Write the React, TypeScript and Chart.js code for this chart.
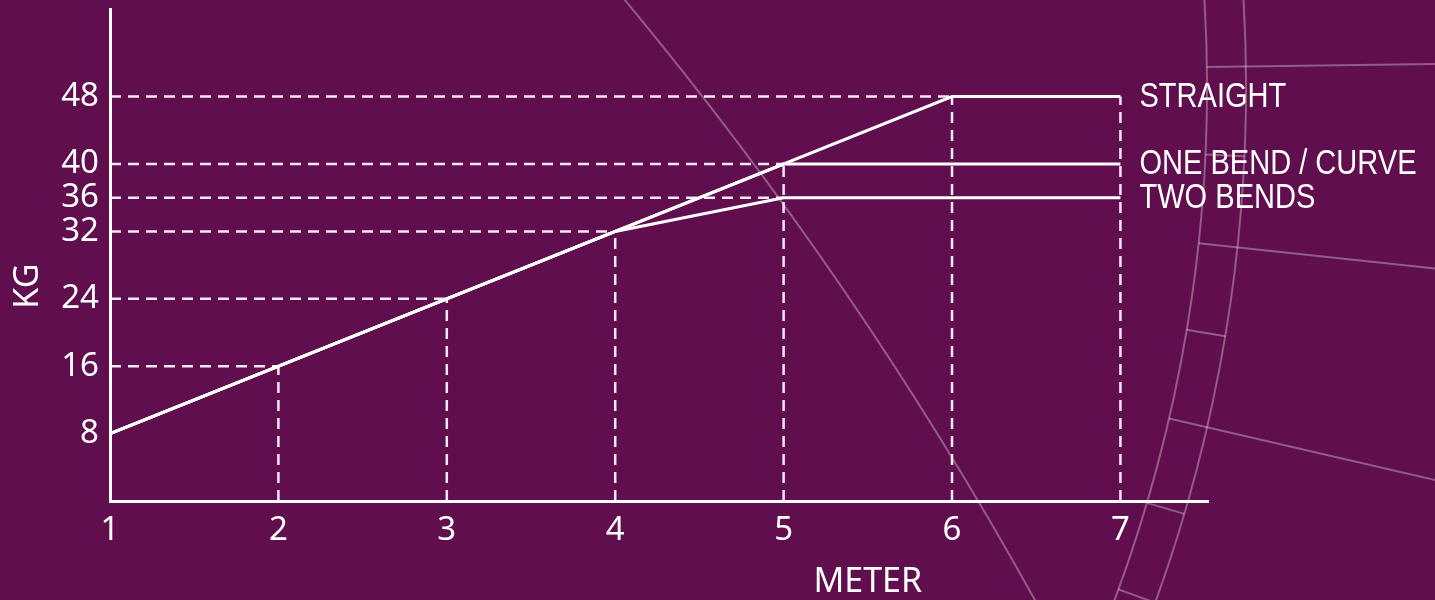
import React, { useEffect, useRef } from 'react';
import { Chart, registerables } from 'chart.js';

Chart.register(...registerables);

// ---- data ----
const meterTicks = [1, 2, 3, 4, 5, 6, 7];
const kgTicks = [8, 16, 24, 32, 36, 40, 48];
const seriesNames = ['STRAIGHT', 'ONE BEND / CURVE', 'TWO BENDS'];
const straightMeters = [1, 6, 7];
const straightKg = [8, 48, 48];
const oneBendMeters = [1, 5, 7];
const oneBendKg = [8, 40, 40];
const twoBendsMeters = [1, 4, 5, 7];
const twoBendsKg = [8, 32, 36, 36];
const guideMeters = [2, 3, 4, 5, 5, 6, 7];
const guideKg = [16, 24, 32, 36, 40, 48, 48];
const xTitle = 'METER';
const yTitle = 'KG';

const BG = '#600e4e';
const FONT = '"Noto Sans", "Open Sans", sans-serif';

const toPts = (xs: number[], ys: number[]) => xs.map((x, i) => ({ x, y: ys[i] }));

function buildGuides() {
  const hor = new Map<number, number>();
  const ver = new Map<number, number>();
  guideMeters.forEach((m, i) => {
    const k = guideKg[i];
    hor.set(k, Math.min(hor.has(k) ? (hor.get(k) as number) : Infinity, m));
    ver.set(m, Math.max(ver.has(m) ? (ver.get(m) as number) : -Infinity, k));
  });
  const sets: { x: number; y: number }[][] = [];
  hor.forEach((m, k) => sets.push([{ x: meterTicks[0], y: k }, { x: m, y: k }]));
  ver.forEach((k, m) => sets.push([{ x: m, y: 0 }, { x: m, y: k }]));
  return sets;
}

const decoPlugin = {
  id: 'deco',
  beforeDraw(chart: any) {
    const ctx = chart.ctx;
    const W = chart.width, H = chart.height;
    ctx.save();
    ctx.fillStyle = BG;
    ctx.fillRect(0, 0, W, H);
    ctx.strokeStyle = 'rgba(255,255,255,0.32)';
    ctx.lineWidth = 2;
    // large diagonal arc
    ctx.beginPath();
    ctx.arc(-2376, 2491, 3900, -0.72, -0.48);
    ctx.stroke();
    // ring on the right
    const cx = -262, cy = 87, rIn = 1469, rOut = 1508;
    ctx.beginPath();
    ctx.arc(cx, cy, rIn, -0.12, 0.45);
    ctx.stroke();
    ctx.beginPath();
    ctx.arc(cx, cy, rOut, -0.12, 0.45);
    ctx.stroke();
    const spoke = (a: number, r0: number, r1: number) => {
      ctx.beginPath();
      ctx.moveTo(cx + r0 * Math.cos(a), cy + r0 * Math.sin(a));
      ctx.lineTo(cx + r1 * Math.cos(a), cy + r1 * Math.sin(a));
      ctx.stroke();
    };
    [-0.0136, 0.1065, 0.2276].forEach((a) => spoke(a, rIn, 2200));
    [0.046, 0.166, 0.287, 0.349].forEach((a) => spoke(a, rIn, rOut));
    ctx.restore();
  },
  afterDraw(chart: any) {
    const ctx = chart.ctx;
    const xs = chart.scales.x, ys = chart.scales.y;
    ctx.save();
    ctx.fillStyle = '#ffffff';
    // axis titles
    ctx.font = `34px ${FONT}`;
    ctx.textAlign = 'center';
    ctx.textBaseline = 'alphabetic';
    ctx.fillText(xTitle, xs.getPixelForValue(5.5), chart.height - 8);
    ctx.save();
    ctx.translate(38, ys.getPixelForValue(25.5));
    ctx.rotate(-Math.PI / 2);
    ctx.fillText(yTitle, 0, 0);
    ctx.restore();
    // series labels
    const ends = [straightKg[straightKg.length - 1], oneBendKg[oneBendKg.length - 1], twoBendsKg[twoBendsKg.length - 1]];
    const lx = xs.getPixelForValue(meterTicks[meterTicks.length - 1]) + 19;
    ctx.font = `35px "Liberation Sans", Arial, sans-serif`;
    ctx.textAlign = 'left';
    seriesNames.forEach((name, i) => {
      ctx.save();
      ctx.translate(lx, ys.getPixelForValue(ends[i]) + 10);
      ctx.scale(0.83, 1);
      ctx.fillText(name, 0, 0);
      ctx.restore();
    });
    ctx.restore();
  },
};

export default function App() {
  const ref = useRef<HTMLCanvasElement>(null);
  useEffect(() => {
    if (!ref.current) return;
    const solid = (xs: number[], ys: number[]) => ({
      data: toPts(xs, ys),
      borderColor: '#ffffff',
      borderWidth: 3,
      pointRadius: 0,
      fill: false,
      tension: 0,
      borderCapStyle: 'butt',
      borderJoinStyle: 'miter',
      clip: false,
      order: 0,
    });
    const guides = buildGuides().map((pts) => ({
      data: pts,
      borderColor: 'rgba(255,246,252,0.95)',
      borderWidth: 2.5,
      borderDash: [11, 7],
      pointRadius: 0,
      fill: false,
      tension: 0,
      borderCapStyle: 'butt',
      clip: false,
      order: 1,
    }));
    const chart = new Chart(ref.current, {
      type: 'line',
      data: {
        datasets: [
          ...guides,
          solid(straightMeters, straightKg),
          solid(oneBendMeters, oneBendKg),
          solid(twoBendsMeters, twoBendsKg),
        ] as any,
      },
      options: {
        animation: false,
        responsive: false,
        maintainAspectRatio: false,
        events: [],
        layout: { padding: { left: 0, right: 227, top: 9, bottom: 0 } },
        plugins: { legend: { display: false }, tooltip: { enabled: false }, title: { display: false } },
        scales: {
          x: {
            type: 'linear',
            min: 1,
            max: 7.52,
            grid: { display: false, drawTicks: false },
            border: { display: true, color: '#ffffff', width: 3 },
            afterBuildTicks: (s: any) => { s.ticks = meterTicks.map((v) => ({ value: v })); },
            afterFit: (s: any) => { s.height = 99; s.paddingLeft = 0; s.paddingRight = 0; },
            ticks: { color: '#ffffff', font: { family: FONT, size: 33 }, padding: 10, maxRotation: 0, autoSkip: false },
          },
          y: {
            type: 'linear',
            min: 0,
            max: 58.4,
            grid: { display: false, drawTicks: false },
            border: { display: true, color: '#ffffff', width: 3 },
            afterBuildTicks: (s: any) => { s.ticks = kgTicks.map((v) => ({ value: v })); },
            afterFit: (s: any) => { s.width = 110; s.paddingTop = 0; s.paddingBottom = 0; },
            ticks: { color: '#ffffff', font: { family: FONT, size: 33 }, padding: 11, autoSkip: false },
          },
        },
      } as any,
      plugins: [decoPlugin],
    });
    return () => chart.destroy();
  }, []);
  return (
    <div style={{ position: 'fixed', left: 0, top: 0, width: 1435, height: 600, background: BG }}>
      <canvas ref={ref} width={1435} height={600} style={{ display: 'block' }} />
    </div>
  );
}
